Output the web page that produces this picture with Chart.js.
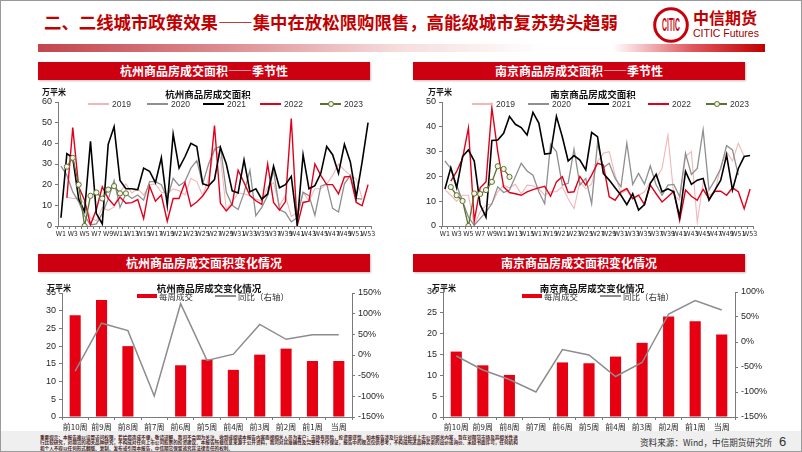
<!DOCTYPE html>
<html lang="zh-CN"><head><meta charset="utf-8">
<script src="https://cdn.jsdelivr.net/npm/chart.js@4.4.1/dist/chart.umd.min.js"></script>
<style>
html,body{margin:0;padding:0;background:#fff;}
body{width:802px;height:452px;position:relative;overflow:hidden;font-family:'Noto Sans CJK SC','Liberation Sans',sans-serif;}
.abs{position:absolute;}
#frame{left:0;top:0;width:802px;height:452px;box-sizing:border-box;border:1px solid #9a9a9a;}
#title{left:44px;top:9px;font-size:17.4px;font-weight:bold;color:#c00000;white-space:nowrap;line-height:26px;}
#gbar{left:38px;top:44px;width:727px;height:8px;background:linear-gradient(to right,#c2454c 0%,#dc8a8e 25%,#f6dede 50%,#fff 70%,#fff 79%,#e0575e 90%,#c00000 100%);}
.hdr{height:18px;line-height:18px;background:#cc0011;color:#fff;font-size:12px;font-weight:bold;text-align:center;box-shadow:1px 1px 2px rgba(0,0,0,.25);}
.unit{font-size:8px;font-weight:bold;color:#111;line-height:10px;white-space:nowrap;}
.ctitle{font-size:9.5px;font-weight:bold;color:#111;line-height:12px;white-space:nowrap;transform:translateX(-50%);}
.lg{font-size:8.5px;color:#333;line-height:10px;white-space:nowrap;font-family:'Liberation Sans','Noto Sans CJK SC',sans-serif;}
.lgc{font-size:8.5px;color:#333;line-height:10px;white-space:nowrap;}
#disc{left:40px;top:434px;width:960px;font-size:9.2px;line-height:11px;color:#4a1f1f;transform:scale(0.5);transform-origin:0 0;font-weight:bold;}
canvas{position:absolute;}
</style></head><body>
<div id="frame" class="abs"></div>
<div id="title" class="abs">二、二线城市政策效果——集中在放松限购限售，高能级城市复苏势头趋弱</div>
<svg class="abs" style="left:652px;top:6px" width="38" height="38" viewBox="0 0 38 38">
  <circle cx="19" cy="19" r="16.3" fill="none" stroke="#c8000b" stroke-width="3"/>
  <g transform="translate(19,19) scale(0.62,1.7)"><text x="0" y="3.5" text-anchor="middle" font-family="Liberation Sans" font-weight="bold" font-size="11" fill="#c8000b">CITIC</text></g>
</svg>
<div class="abs" style="left:693px;top:7px;font-size:16px;font-weight:bold;color:#c00000;line-height:20px;">中信期货</div>
<div class="abs" style="left:693px;top:27px;font-size:10.5px;color:#a00000;line-height:12px;font-family:'Liberation Sans Narrow','Liberation Sans',sans-serif;">CITIC Futures</div>
<div id="gbar" class="abs"></div>

<div class="abs hdr" style="left:38px;top:62px;width:332px;">杭州商品房成交面积——季节性</div>
<div class="abs hdr" style="left:413px;top:62px;width:332px;">南京商品房成交面积——季节性</div>
<div class="abs hdr" style="left:38px;top:254px;width:332px;">杭州商品房成交面积变化情况</div>
<div class="abs hdr" style="left:413px;top:254px;width:332px;">南京商品房成交面积变化情况</div>

<canvas id="cHZ" width="350" height="160" style="left:30px;top:84px"></canvas>
<canvas id="cNJ" width="375" height="160" style="left:415px;top:84px"></canvas>
<canvas id="bHZ" width="360" height="155" style="left:30px;top:278px"></canvas>
<canvas id="bNJ" width="375" height="155" style="left:415px;top:278px"></canvas>

<div class="abs unit" style="left:42px;top:87px">万平米</div>
<div class="abs ctitle" style="left:208px;top:88px">杭州商品房成交面积</div>
<div class="abs unit" style="left:428px;top:87px">万平米</div>
<div class="abs ctitle" style="left:593px;top:88px">南京商品房成交面积</div>
<div class="abs unit" style="left:47px;top:283px">万平米</div>
<div class="abs ctitle" style="left:209px;top:282px">杭州商品房成交变化情况</div>
<div class="abs unit" style="left:432px;top:283px">万平米</div>
<div class="abs ctitle" style="left:592px;top:282px">南京商品房成交变化情况</div>

<div id="legends"></div>

<div class="abs" style="left:1px;top:431px;width:800px;height:20px;background:#efefef;"></div>
<div id="disc" class="abs">重要提示：本报告难以设置访问权限，若给您造成不便，敬请谅解。我司不会因为关注、收到或阅读本报告内容而视相关人员为客户；市场有风险，投资需谨慎。如本报告涉及行业分析或上市公司相关内容，旨在对期货市场及其相关性进行比较研究，对期货的相关品种研究，不构成对任何上市公司股票的投资建议。本报告所载信息来源于公开资料，我司对其准确性及完整性不作保证，报告中的观点仅供参考，不构成所述品种买卖的出价或询价。未经书面许可，任何机构和个人不得以任何形式翻版、复制、发布或引用本报告，中信期货保留追究其法律责任的权利。</div>
<div class="abs" style="left:640px;top:437px;font-size:8.6px;color:#333;line-height:11px;white-space:nowrap;">资料来源：Wind，中信期货研究所</div>
<div class="abs" style="left:779px;top:434px;font-size:13px;color:#333;line-height:15px;font-family:'Liberation Sans',sans-serif;">6</div>

<script>
// ---------- data ----------
const weeks = ['W1','W2','W3','W4','W5','W6','W7','W8','W9','W10','W11','W12','W13','W14','W15','W16','W17','W18','W19','W20','W21','W22','W23','W24','W25','W26','W27','W28','W29','W30','W31','W32','W33','W34','W35','W36','W37','W38','W39','W40','W41','W42','W43','W44','W45','W46','W47','W48','W49','W50','W51','W52','W53'];
const years = ['2019','2020','2021','2022','2023'];

const hz2019 = [null,14,13.3,13.5,11,4,2.5,9,7.6,9.2,16.5,20.4,16,18,15,20,20.4,16.3,15.6,18,17,15,23,21.5,14.7,22.8,37.5,33,8,11.7,16,15.5,14.7,13,12.2,18.8,21,9.8,14.7,4.6,6.5,16.3,12.2,18,18,20.4,24.5,30,27,24.5,22.8,13.4,null];
const hz2020 = [29,24.6,16.5,11.7,5,0.5,1,6,13,22,9,15.6,13.3,15,12.5,21.5,21.5,20,13.3,23,19.5,21.5,28,31.6,20.4,30,37,38.7,16.3,10,8,16,27,5,9,14.7,27,8,6.5,2,4,16.3,14.7,5.2,19.3,20.4,8.5,6.8,20.4,24.5,13.4,13,null];
const hz2021 = [4,35,33,13,7,41,6,1,39.5,48,22,18,18,17.5,28,26.5,21,33,10,44.5,28,33.5,40,38.5,20.5,19.5,22.5,38,30,17,16,32,16.5,18,13,15.5,29,18.5,20,24,1,34.5,18,19.5,25.5,38.5,34.5,25.5,39.5,31,14,31,50];
const hz2022 = [null,13.6,47.6,19,12.5,0.6,8,19,13.3,10,14,11,11.3,12.8,3.6,19.3,12,15,2.3,13.3,13.3,21,9.5,11.6,14.5,18.8,48.6,11,7.3,10.6,27,21,14.7,12.2,10.5,30,11.4,7.7,11.7,52,0,11.4,12,30,24.5,20,20,15.5,23.7,24,11.4,9.8,20];
const hz2023 = [null,28.7,33,20,0,14.6,16.2,13.3,17.6,19.3,15.8,15.8];

const nj2019 = [14.7,12.4,10,12.4,12.4,0.5,5.7,8.4,9,13.8,16.5,15.4,16.8,13,16.5,16.2,15,12.4,13.8,13.8,15.8,11,7,17.8,15,17,26,29.3,30,20.5,13,14.5,11,12.4,13.8,17.8,19.2,23.2,36.7,12.4,10.4,28,30,1.6,17.8,12.4,13.8,23.9,30,26.2,33.4,28,null];
const nj2020 = [26.2,23.2,16.5,10,3.6,0.3,3,5.7,9,15.8,13.5,14.5,19.9,25.3,22.2,20.5,13.8,9,33,30,16.5,17.2,31,16.5,19.2,9,33.4,23.5,25.3,19.2,15.8,33.4,16.8,21.2,16.9,24.2,16.5,12.4,16.5,16.8,11.8,29.3,20.8,23.2,38.8,14.5,18.5,23.2,32.4,30.7,20.5];
const nj2021 = [14.9,23.5,15.4,28,30.7,26.2,8.6,3.6,34.5,34.7,37.4,44.2,41,39.7,36.7,45.8,41.5,29,29.3,44.2,36,26.2,28.4,26.6,22.6,37.7,36,21.2,18.5,15.4,12.4,8.6,13,6.4,8.6,17.2,20.8,13.8,15,13.8,3.6,22,16.8,18.5,19.2,10.4,14.5,18.5,28.6,14.5,23.2,28,28.4];
const nj2022 = [null,18.1,22,27.3,39.5,2,15.4,17.8,47.6,30,15.8,13.5,13,12.4,13.8,14.7,15.4,16,12,17.8,19.9,13.5,13.8,20,16.5,20.5,25.3,24.6,11.8,10.4,13.8,15.1,11,12.4,8.6,16.5,13,9.7,11.8,14,2.3,14.5,12,10.4,14.8,11,14,14,12.4,15.4,13.8,7,14.9];
const nj2023 = [null,15.7,12.4,10.1,0,13.1,12.9,14.5,17.8,24.1,23.0,19.8];

const periods = ['前10周','前9周','前8周','前7周','前6周','前5周','前4周','前3周','前2周','前1周','当周'];
const hzWeekly = [28.7,33,20,0,14.6,16.2,13.3,17.6,19.3,15.8,15.8];
const hzYoY = [-39,77,59,-99,124,-13,2,74,38,49,49];
const njWeekly = [15.7,12.4,10.1,0,13.1,12.9,14.5,17.8,24.1,23.0,19.8];
const njYoY = [-28,-56,-75,-100,-15,-26,-69,-41,56,83,64];
const barLabels = ['每周成交','同比（右轴）'];

// ---------- style ----------
const C = {pink:'#f2b6b8', gray:'#8f8f8f', black:'#000000', red:'#e0001b', olive:'#5e7132',
           bar:'#e60012', yoy:'#8c8c8c', axis:'#7a7a7a', text:'#262626'};
const yearColors = [C.pink, C.gray, C.black, C.red, C.olive];
const SANS = "'Liberation Sans', Arial, sans-serif";
const NARROW = "'Liberation Sans Narrow', 'DejaVu Sans Condensed', 'Liberation Sans', sans-serif";
const CJK = "'Noto Sans CJK SC', 'Liberation Sans', sans-serif";

function lineSet(label, data, color, width, order, extra) {
  return Object.assign({label, data, borderColor: color, backgroundColor: color, borderWidth: width,
    order, pointRadius: 0, spanGaps: false, tension: 0}, extra || {});
}

function seasonal(id, series, yMax, yStep, yWidth, padRight) {
  const widths = [1.1, 1.3, 1.6, 1.4, 1.3];
  const orders = [4, 3, 1, 2, 0];
  const datasets = series.map((d, i) => lineSet(years[i], d, yearColors[i], widths[i], orders[i],
    i === 4 ? {pointRadius: 2.6, pointBackgroundColor: '#f4f4e4', pointBorderColor: C.olive, pointBorderWidth: 1} : null));
  new Chart(document.getElementById(id), {
    type: 'line',
    data: {labels: weeks, datasets},
    options: {
      responsive: false, animation: false, events: [],
      layout: {padding: {top: 18, right: padRight, left: 0, bottom: 0}},
      plugins: {legend: {display: false}, title: {display: false}, tooltip: {enabled: false}},
      scales: {
        x: {offset: true,
            grid: {display: true, drawOnChartArea: false, drawTicks: true, tickLength: 3, color: C.axis, offset: true},
            border: {color: C.axis},
            ticks: {autoSkip: false, maxRotation: 0, minRotation: 0, padding: 1, color: C.text,
                    font: {family: NARROW, size: 7}, callback: (v, i) => (i % 2 === 0 ? weeks[i] : '')},
            afterFit: s => { s.height = 18; }},
        y: {min: 0, max: yMax,
            grid: {drawOnChartArea: false, tickLength: 3, color: C.axis},
            border: {color: C.axis},
            ticks: {stepSize: yStep, padding: 3, color: C.text, font: {family: SANS, size: 9}},
            afterFit: s => { s.width = yWidth; }}
      }
    }
  });
}

function combo(id, vol, yoy, yMax, y1Min, y1Max, yWidth, y1Width, padTop) {
  new Chart(document.getElementById(id), {
    type: 'bar',
    data: {labels: periods, datasets: [
      {type: 'line', label: barLabels[1], data: yoy, yAxisID: 'y1', borderColor: C.yoy, backgroundColor: C.yoy,
       borderWidth: 1.5, pointRadius: 0, tension: 0, order: 0},
      {type: 'bar', label: barLabels[0], data: vol, yAxisID: 'y', backgroundColor: C.bar,
       barPercentage: 0.42, categoryPercentage: 1, order: 1}
    ]},
    options: {
      responsive: false, animation: false, events: [],
      layout: {padding: {top: padTop, right: 0, left: 0, bottom: 0}},
      plugins: {legend: {display: false}, title: {display: false}, tooltip: {enabled: false}},
      scales: {
        x: {grid: {display: true, drawOnChartArea: false, tickLength: 3, color: C.axis},
            border: {color: C.axis},
            ticks: {autoSkip: false, maxRotation: 0, minRotation: 0, padding: 2, color: C.text, font: {family: CJK, size: 8}},
            afterFit: s => { s.height = 16; }},
        y: {position: 'left', min: 0, max: yMax,
            grid: {drawOnChartArea: false, tickLength: 3, color: C.axis},
            border: {color: C.axis},
            ticks: {stepSize: 5, padding: 3, color: C.text, font: {family: SANS, size: 9}},
            afterFit: s => { s.width = yWidth; }},
        y1: {position: 'right', min: y1Min, max: y1Max,
            grid: {drawOnChartArea: false, tickLength: 3, color: C.axis},
            border: {color: C.axis},
            ticks: {stepSize: 50, padding: 3, color: C.text, font: {family: SANS, size: 9}, callback: v => v + '%'},
            afterFit: s => { s.width = y1Width; }}
      }
    }
  });
}

seasonal('cHZ', [hz2019, hz2020, hz2021, hz2022, hz2023], 60, 10, 28, 9);
seasonal('cNJ', [nj2019, nj2020, nj2021, nj2022, nj2023], 50, 5, 27, 37);
combo('bHZ', hzWeekly, hzYoY, 35, -150, 150, 32, 38, 15);
combo('bNJ', njWeekly, njYoY, 30, -150, 100, 28, 55, 14);

// ---------- HTML legends ----------
const L = document.getElementById('legends');
function add(html) { L.insertAdjacentHTML('beforeend', html); }
function yearLegend(lineXs, y) {
  years.forEach((yr, i) => {
    const x = lineXs[i];
    add(`<div class="abs" style="left:${x}px;top:${y - 0.75}px;width:21px;height:1.5px;background:${yearColors[i]}"></div>`);
    if (i === 4) add(`<div class="abs" style="left:${x + 7.5}px;top:${y - 3}px;width:4px;height:4px;border:1px solid ${C.olive};border-radius:50%;background:#f4f4e4"></div>`);
    add(`<div class="abs lg" style="left:${x + 24}px;top:${y - 5}px">${yr}</div>`);
  });
}
yearLegend([88, 147, 203, 260, 320], 104);
yearLegend([472, 528, 588, 648, 706], 104);
function barLegend(bx, lx, y) {
  add(`<div class="abs" style="left:${bx}px;top:${y - 2}px;width:20px;height:4px;background:${C.bar}"></div>`);
  add(`<div class="abs lgc" style="left:${bx + 22}px;top:${y - 5.5}px">${barLabels[0]}</div>`);
  add(`<div class="abs" style="left:${lx}px;top:${y - 0.75}px;width:21px;height:1.5px;background:${C.yoy}"></div>`);
  add(`<div class="abs lgc" style="left:${lx + 23}px;top:${y - 5.5}px">${barLabels[1]}</div>`);
}
barLegend(137, 215, 296);
barLegend(522, 600, 296);
</script>
</body></html>
